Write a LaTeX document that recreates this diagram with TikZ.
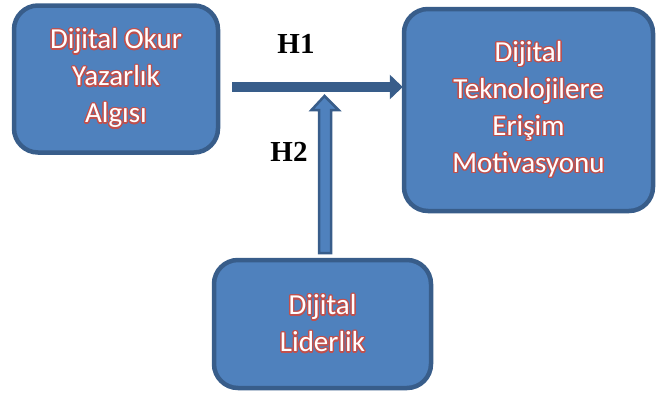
\documentclass[tikz,border=0pt]{standalone}
\usepackage{fontspec}
\setmainfont{Carlito}
\newfontfamily\hfont{Liberation Serif}
\usepackage{contour}
\contourlength{1.3pt}
\contournumber{16}
\usetikzlibrary{arrows.meta}
\definecolor{boxfill}{HTML}{4F81BD}
\definecolor{boxline}{HTML}{385D8A}
\definecolor{txtred}{HTML}{C0504D}
\newcommand{\ot}[1]{\contour{txtred}{\textcolor{white}{#1}}}
\tikzset{
  bluebox/.style={draw=boxline, fill=boxfill, line width=4.5pt, rounded corners=24pt,
    align=center, font=\fontsize{29}{37}\selectfont, inner sep=0pt},
  hlabel/.style={font=\hfont\bfseries\fontsize{29}{30}\selectfont, text=black},
}
\begin{document}
\begin{tikzpicture}[x=1pt,y=-1pt]
\useasboundingbox (0,0) rectangle (662,394);
\node[bluebox, minimum width=204pt, minimum height=147pt] (a) at (116,79)
  {\ot{Dijital Okur}\\\ot{Yazarlık}\\\ot{Algısı}};
\node[bluebox, minimum width=249pt, minimum height=202pt] (b) at (528.5,110)
  {\ot{Dijital}\\\ot{Teknolojilere}\\\ot{Erişim}\\\ot{Motivasyonu}};
\node[bluebox, minimum width=217pt, minimum height=128pt] (c) at (322.5,324)
  {\ot{Dijital}\\\ot{Liderlik}};
\coordinate (h1s) at (232,87);
\coordinate (h1e) at (b.west |- h1s);
\draw[boxline, line width=10pt, -{Triangle[length=13pt,width=24pt]}] (h1s) -- ([xshift=1pt]h1e);
\coordinate (h2b) at (324.5,253);
\filldraw[fill=boxfill, draw=boxline, line width=2.5pt, line join=miter]
  ([xshift=-5.5pt]h2b) -- ++(0,-143) -- ++(-7.5,0) -- (324.5,96) -- (338.5,110)
  -- ++(-7.5,0) -- ([xshift=6.5pt]h2b) -- cycle;
\node[hlabel] (h1) at (296,44) {H1};
\node[hlabel] (h2) at (289,152) {H2};
\end{tikzpicture}
\end{document}
